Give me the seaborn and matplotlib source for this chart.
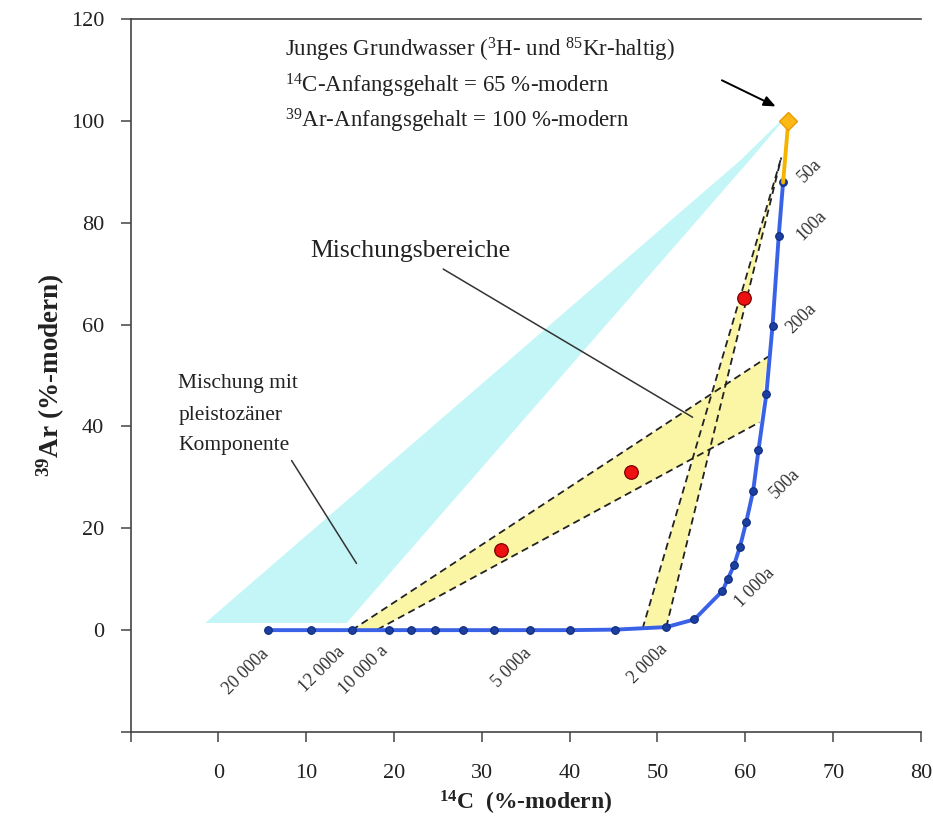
import numpy as np
import pandas as pd
import matplotlib
matplotlib.use("Agg")
import matplotlib.pyplot as plt
import seaborn as sns

# ---------------- data ----------------
ages = [20000, 15000, 12000, 10000, 9000, 8000, 7000, 6000, 5000, 4000, 3000,
        2000, 1500, 1000, 900, 800, 700, 600, 500, 400, 300, 200, 100, 50]
c14 = [5.7, 10.5, 15.2, 19.4, 21.9, 24.7, 27.9, 31.4, 35.5, 40.0, 45.2,
       51.0, 54.2, 57.4, 58.0, 58.7, 59.4, 60.1, 60.9, 61.5, 62.4, 63.1, 63.8, 64.3]
ar39 = [0.0, 0.0, 0.0, 0.0, 0.0, 0.0, 0.0, 0.0, 0.0, 0.0, 0.1,
        0.6, 2.1, 7.7, 10.0, 12.7, 16.4, 21.2, 27.4, 35.4, 46.4, 59.8, 77.3, 87.9]

young_c14 = [64.3, 64.9]
young_ar39 = [87.9, 100.0]

sample_c14 = [32.2, 47.0, 59.8]
sample_ar39 = [15.7, 31.0, 65.2]

cyan_c14 = [-1.5, 14.6, 60.8, 64.3, 63.8, 59.4]
cyan_ar39 = [1.4, 1.4, 92.9, 100.0, 99.6, 92.2]

steep_c14 = [48.3, 51.0, 64.1]
steep_ar39 = [0.3, 0.6, 92.8]

shallow_c14 = [15.2, 18.1, 61.6, 62.6]
shallow_ar39 = [0.0, 0.1, 40.8, 53.7]

bottom_labels = ["20 000a", "12 000a", "10 000 a", "5 000a", "2 000a"]
bottom_label_ages = [20000, 12000, 10000, 5000, 2000]
right_labels = ["50a", "100a", "200a", "500a", "1 000a"]
right_label_ages = [50, 100, 200, 500, 1000]

x_ticks = [-10, 0, 10, 20, 30, 40, 50, 60, 70, 80]
x_ticklabels = ["", "0", "10", "20", "30", "40", "50", "60", "70", "80"]
y_ticks = [-20, 0, 20, 40, 60, 80, 100, 120]
y_ticklabels = ["", "0", "20", "40", "60", "80", "100", "120"]

# ---------------- style ----------------
sns.set_style("ticks")
plt.rcParams["font.family"] = ["Liberation Serif", "DejaVu Serif"]
plt.rcParams["mathtext.default"] = "regular"

fig = plt.figure(figsize=(9.33, 8.22), dpi=100)
ax = fig.add_axes([0.1399, 0.1095, 0.8472, 0.8674])

# regions
ax.fill(cyan_c14, cyan_ar39, color="#c4f6f8", lw=0, zorder=1)
ax.fill(steep_c14, steep_ar39, color="#faf6a6", lw=0, zorder=2)
ax.fill(shallow_c14, shallow_ar39, color="#faf6a6", lw=0, zorder=2)

dash_kw = dict(color="#222222", lw=1.3, ls=(0, (4, 2.5)), zorder=3)
for i in (0, 1):
    ax.plot([steep_c14[i], steep_c14[2]], [steep_ar39[i], steep_ar39[2]], **dash_kw)
ax.plot([shallow_c14[0], shallow_c14[3]], [shallow_ar39[0], shallow_ar39[3]], **dash_kw)
ax.plot([shallow_c14[1], shallow_c14[2]], [shallow_ar39[1], shallow_ar39[2]], **dash_kw)

# decay curve
df = pd.DataFrame({"age": ages, "c14": c14, "ar39": ar39})
sns.lineplot(data=df, x="c14", y="ar39", sort=False, estimator=None, ax=ax,
             color="#3a62e6", lw=2.8, marker="o", markersize=5.5,
             markerfacecolor="#1d3f9f", markeredgecolor="#0c2a7e",
             markeredgewidth=0.8, zorder=4)
sns.lineplot(x=young_c14, y=young_ar39, sort=False, estimator=None, ax=ax,
             color="#f5b400", lw=2.8, zorder=4)
ax.plot(young_c14[1], young_ar39[1], marker="D", markersize=9,
        markerfacecolor="#fcb815", markeredgecolor="#e99d00", zorder=6)

# samples
sns.scatterplot(x=sample_c14, y=sample_ar39, ax=ax, s=95, color="#ee1111",
                edgecolor="#7a0000", linewidth=0.9, zorder=6)

# age labels
lab_kw = dict(textcoords="offset points", rotation=45, fontsize=13,
              color="#333333", zorder=7)
bottom_offsets = [(2.4, -10.8), (-2.2, -9.4), (2.2, -8.6), (3.6, -10.8), (3.6, -10.0)]
for lab, a, off in zip(bottom_labels, bottom_label_ages, bottom_offsets):
    i = ages.index(a)
    ax.annotate(lab, xy=(c14[i], ar39[i]), xytext=off, ha="right", va="top", **lab_kw)
right_offsets = [(8.4, -2.4), (10.3, -5.5), (7.4, -8.4), (9.4, -8.2), (7.0, -14.4)]
for lab, a, off in zip(right_labels, right_label_ages, right_offsets):
    i = ages.index(a)
    ax.annotate(lab, xy=(c14[i], ar39[i]), xytext=off, ha="left", va="bottom", **lab_kw)

# annotations
txt_kw = dict(color="#222222", fontsize=16.5, ha="left", va="baseline", zorder=7)
ax.text(7.6, 112.6, r"Junges Grundwasser ($^{3}$H- und $^{85}$Kr-haltig)", **txt_kw)
ax.text(7.6, 105.5, r"$^{14}$C-Anfangsgehalt = 65 %-modern", **txt_kw)
ax.text(7.6, 98.6, r"$^{39}$Ar-Anfangsgehalt = 100 %-modern", **txt_kw)

ax.annotate("", xy=(63.74, 102.6), xytext=(57.05, 108.2),
            arrowprops=dict(arrowstyle="-|>,head_length=0.7,head_width=0.3",
                            color="black", lw=1.4), zorder=7)

ax.text(10.45, 73.2, "Mischungsbereiche", color="#222222", fontsize=18.5,
        ha="left", va="baseline", zorder=7)
ax.plot([25.6, 54.0], [70.9, 41.8], color="#333333", lw=1.1, zorder=7)

for yy, s in zip([47.5, 41.2, 35.3], ["Mischung mit", "pleistozäner", "Komponente"]):
    ax.text(-4.56, yy, s, color="#222222", fontsize=15.5, ha="left",
            va="baseline", zorder=7)
ax.plot([8.34, 15.73], [33.3, 13.1], color="#333333", lw=1.1, zorder=7)

# axes
ax.set_xlim(-10, 80)
ax.set_ylim(-20, 120)
ax.set_xticks(x_ticks)
ax.set_xticklabels(x_ticklabels)
ax.set_yticks(y_ticks)
ax.set_yticklabels(y_ticklabels)
ax.tick_params(axis="both", direction="out", length=7, width=1.1,
               color="#444444", labelsize=16, labelcolor="#222222")
ax.tick_params(axis="y", pad=12)
ax.tick_params(axis="x", pad=16)
for side in ("left", "bottom", "top"):
    ax.spines[side].set_color("#444444")
    ax.spines[side].set_linewidth(1.2)
ax.spines["right"].set_visible(False)

ax.set_xlabel(r"$^{14}$C  (%-modern)", fontsize=17, fontweight="bold",
              color="#222222", labelpad=4)
ax.set_ylabel(r"$^{39}$Ar (%-modern)", fontsize=19.5, fontweight="bold",
              color="#222222", labelpad=3)

fig.savefig("out.png", dpi=100)
